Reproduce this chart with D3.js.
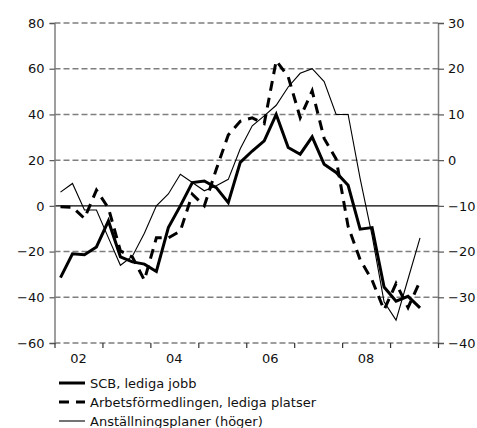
<!DOCTYPE html>
<html>
<head>
<meta charset="utf-8">
<script src="https://cdn.jsdelivr.net/npm/d3@7"></script>
<style>
  body { margin: 0; background: #fff; }
  text { font-family: "DejaVu Sans", Verdana, sans-serif; font-size: 13px; fill: #111; }
</style>
</head>
<body>
<div class="chart"></div>
<script>
// Quarterly data, 2002 Q1 - 2009 Q3
var quarters = [];
for (var yr = 2002; yr <= 2009; yr++) {
  for (var q = 1; q <= 4; q++) {
    if (yr === 2009 && q > 3) break;
    quarters.push(yr + (q - 0.5) / 4);
  }
}

// SCB, lediga jobb (left axis)
var scb = [-31.4, -21, -21.4, -18,
  -6.6, -22.3, -24.5, -25.5,
  -28.7, -9.5, 0, 10.2,
  10.9, 8, 1.4, 19,
  24, 28.4, 40, 25.5,
  22.6, 30.2, 18.2, 14.6,
  9, -10.2, -9.5, -35.5,
  -41.7, -39.6, -44.6];

// Arbetsförmedlingen, lediga platser (left axis)
var af = [-0.4, -0.6, -5.5, 6.9,
  -1, -19.7, -22.4, -32.5,
  -14, -14, -11, 5.1,
  0, 16, 31, 37,
  38.5, 36, 63.5, 56.5,
  38.6, 50.3, 29.5, 20.5,
  -9, -23.5, -32.5, -45.5,
  -34, -44.5, -33];

// Anställningsplaner (right axis)
var plans = [-7, -5.1, -10.9, -10.9,
  -17, -23, -21, -16,
  -10, -7.4, -3.1, -4.9,
  -6.7, -5.6, -4.2, 2.5,
  7.5, 9.7, 12, 16,
  19, 20, 17.2, 10,
  10, -4, -16.5, -31,
  -35, -26, -17];

var leftTicks = [-60, -40, -20, 0, 20, 40, 60, 80];
var rightTicks = [-40, -30, -20, -10, 0, 10, 20, 30];
var yearTicks = [2002, 2003, 2004, 2005, 2006, 2007, 2008, 2009, 2010];
var yearLabels = ["02", "04", "06", "08"];
var legendNames = ["SCB, lediga jobb", "Arbetsförmedlingen, lediga platser", "Anställningsplaner (höger)"];

var svgWidth = 477;
var svgHeight = 428;
var margin = { top: 23, right: 39, bottom: 85, left: 54.5 };
var width = svgWidth - margin.left - margin.right;
var height = svgHeight - margin.top - margin.bottom;

var svg = d3.select(".chart")
  .append("svg")
  .attr("width", svgWidth)
  .attr("height", svgHeight);

var chart = svg.append("g")
  .attr("transform", "translate(" + margin.left + "," + margin.top + ")");

var xScale = d3.scaleLinear().domain([2002, 2010]).range([0, width]);
var yLeft = d3.scaleLinear().domain([-60, 80]).range([height, 0]);
var yRight = d3.scaleLinear().domain([-40, 30]).range([height, 0]);

// gridlines
chart.selectAll(".grid")
  .data(leftTicks)
  .enter().append("line")
  .attr("x1", 0)
  .attr("x2", width)
  .attr("y1", function(d) { return yLeft(d); })
  .attr("y2", function(d) { return yLeft(d); })
  .attr("stroke", function(d) { return d === 0 ? "#000" : "#7f7f7f"; })
  .attr("stroke-width", function(d) { return d === 0 ? 1.2 : 1.5; })
  .attr("stroke-dasharray", function(d) { return d === 0 ? null : "6,3"; });

// axes
var leftAxis = chart.append("g")
  .call(d3.axisLeft(yLeft).tickValues(leftTicks).tickSize(5).tickPadding(5));
var rightAxis = chart.append("g")
  .attr("transform", "translate(" + width + ",0)")
  .call(d3.axisRight(yRight).tickValues(rightTicks).tickSize(6).tickPadding(4));
var bottomAxis = chart.append("g")
  .attr("transform", "translate(0," + height + ")")
  .call(d3.axisBottom(xScale).tickValues(yearTicks).tickSize(5).tickFormat(""));

[leftAxis, rightAxis].forEach(function(ax) {
  ax.select(".domain").attr("stroke", "#7f7f7f").attr("stroke-width", 1.5);
  ax.selectAll(".tick line").attr("stroke", "#555").attr("stroke-width", 1.2);
  ax.selectAll("text").attr("font-family", null).attr("font-size", null);
});
bottomAxis.select(".domain").remove();
bottomAxis.selectAll(".tick line").attr("stroke", "#333").attr("stroke-width", 1.2);

chart.selectAll(".xlabel")
  .data(yearLabels)
  .enter().append("text")
  .attr("x", function(d) { return xScale(2000 + (+d) + 0.5); })
  .attr("y", height + 19.5)
  .attr("text-anchor", "middle")
  .text(function(d) { return d; });

// lines
var lineLeft = d3.line()
  .x(function(d, i) { return xScale(quarters[i]); })
  .y(function(d) { return yLeft(d); });
var lineRight = d3.line()
  .x(function(d, i) { return xScale(quarters[i]); })
  .y(function(d) { return yRight(d); });

chart.append("path")
  .datum(plans)
  .attr("d", lineRight)
  .attr("fill", "none")
  .attr("stroke", "#000")
  .attr("stroke-width", 1.1);

chart.append("path")
  .datum(af)
  .attr("d", lineLeft)
  .attr("fill", "none")
  .attr("stroke", "#000")
  .attr("stroke-width", 3)
  .attr("stroke-dasharray", "10,7");

chart.append("path")
  .datum(scb)
  .attr("d", lineLeft)
  .attr("fill", "none")
  .attr("stroke", "#000")
  .attr("stroke-width", 3)
  .attr("stroke-linejoin", "miter");

// legend
var legend = svg.append("g").attr("transform", "translate(59,383)");
var legendStyles = [
  { w: 3, dash: null },
  { w: 3, dash: "10,7" },
  { w: 1.1, dash: null }
];
legendNames.forEach(function(name, i) {
  var row = legend.append("g").attr("transform", "translate(0," + (i * 19) + ")");
  row.append("line")
    .attr("x1", 0).attr("x2", 26)
    .attr("y1", 0).attr("y2", 0)
    .attr("stroke", "#000")
    .attr("stroke-width", legendStyles[i].w)
    .attr("stroke-dasharray", legendStyles[i].dash);
  row.append("text")
    .attr("x", 31)
    .attr("y", 0)
    .attr("dy", "0.35em")
    .text(name);
});
</script>
</body>
</html>
